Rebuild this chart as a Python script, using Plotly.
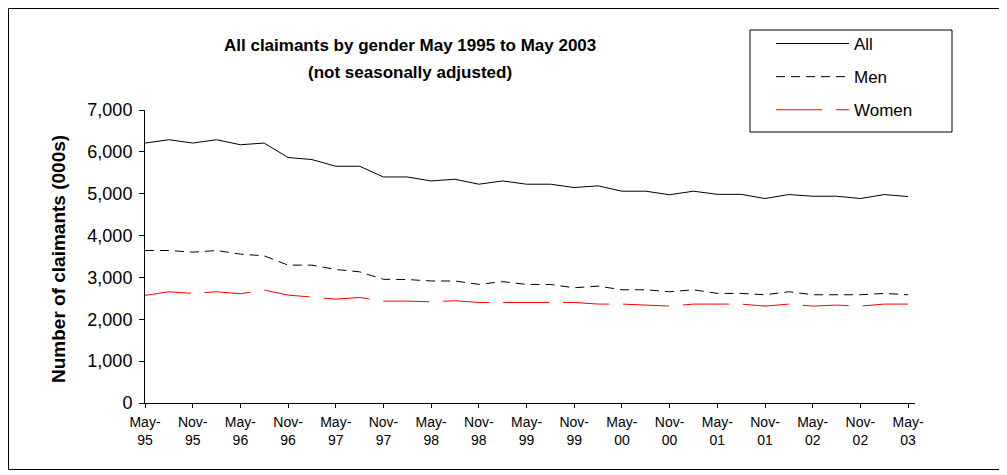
import plotly.graph_objects as go

categories = [
    "May-95", "Aug-95", "Nov-95", "Feb-96", "May-96", "Aug-96", "Nov-96", "Feb-97",
    "May-97", "Aug-97", "Nov-97", "Feb-98", "May-98", "Aug-98", "Nov-98", "Feb-99",
    "May-99", "Aug-99", "Nov-99", "Feb-00", "May-00", "Aug-00", "Nov-00", "Feb-01",
    "May-01", "Aug-01", "Nov-01", "Feb-02", "May-02", "Aug-02", "Nov-02", "Feb-03",
    "May-03",
]
all_claimants = [6210, 6290, 6210, 6290, 6170, 6210, 5865, 5816, 5656, 5656, 5400, 5400,
                 5305, 5346, 5227, 5305, 5227, 5227, 5148, 5188, 5060, 5060, 4975, 5060,
                 4985, 4985, 4885, 4980, 4940, 4940, 4885, 4980, 4932]
men = [3643, 3643, 3604, 3643, 3557, 3516, 3294, 3294, 3190, 3134, 2955, 2950,
       2915, 2915, 2835, 2900, 2832, 2832, 2753, 2792, 2705, 2705, 2658, 2705,
       2618, 2618, 2586, 2658, 2586, 2586, 2586, 2618, 2586]
women = [2570, 2658, 2618, 2658, 2610, 2697, 2578, 2538, 2482, 2522, 2434, 2434,
         2418, 2442, 2402, 2402, 2402, 2402, 2402, 2363, 2363, 2339, 2315, 2363,
         2363, 2363, 2315, 2363, 2315, 2339, 2315, 2363, 2363]
tick_vals = categories[::2]
tick_text = [c.replace("-", "-<br>") for c in tick_vals]
y_ticks = [0, 1000, 2000, 3000, 4000, 5000, 6000, 7000]

FONT = "Arial, Liberation Sans, sans-serif"

fig = go.Figure()
fig.add_trace(go.Scatter(x=categories, y=all_claimants, name="All", mode="lines",
                         legendgroup="a", line=dict(color="black", width=1)))
fig.add_trace(go.Scatter(x=categories, y=men, name="Men", mode="lines",
                         legendgroup="b", line=dict(color="black", width=1, dash="9px,6px")))
fig.add_trace(go.Scatter(x=categories, y=women, name="Women", mode="lines",
                         legendgroup="c", line=dict(color="#ff0000", width=1, dash="46px,14px")))

# page body has an 8px margin; work in screen coordinates and convert
OFF = 8
W, H = 992, 462
PL, PR, PT, PB = 145, 915, 110, 403  # plot area in screen px
L, R, T, B = PL - OFF, W - (PR - OFF), PT - OFF, H - (PB - OFF)
pw, ph = PR - PL, PB - PT

def px(x):
    return (x - PL) / pw

def py(y):
    return (PB - y) / ph

fig.update_layout(
    width=W, height=H,
    margin=dict(l=L, r=R, t=T, b=B),
    paper_bgcolor="white", plot_bgcolor="white",
    font=dict(family=FONT, color="black", size=17),
    showlegend=True,
    legend=dict(x=px(771), y=py(26), xanchor="left", yanchor="top",
                bgcolor="rgba(0,0,0,0)", borderwidth=0,
                font=dict(size=17), tracegroupgap=8, itemwidth=73),
    xaxis=dict(type="category", range=[0, 32.29], tickmode="array",
               tickvals=tick_vals, ticktext=tick_text,
               showline=True, linecolor="black", linewidth=1,
               ticks="outside", ticklen=4, tickcolor="black",
               showgrid=False, zeroline=False, tickangle=0,
               ticklabelstandoff=2, tickfont=dict(size=14)),
    yaxis=dict(range=[0, 7000], tickmode="array", tickvals=y_ticks,
               tickformat=",d", showline=True, linecolor="black", linewidth=1,
               ticks="outside", ticklen=5, tickcolor="black",
               showgrid=False, zeroline=False, ticklabelstandoff=3,
               tickfont=dict(size=18)),
    shapes=[
        dict(type="rect", xref="paper", yref="paper",
             x0=px(8.5), x1=px(999.5), y0=py(469.5), y1=py(8.5),
             line=dict(color="black", width=1), fillcolor="rgba(0,0,0,0)", layer="below"),
        dict(type="rect", xref="paper", yref="paper",
             x0=px(750), x1=px(952), y0=py(132), y1=py(30),
             line=dict(color="black", width=1), fillcolor="white", layer="below"),
    ],
    annotations=[
        dict(text="<b>All claimants by gender May 1995 to May 2003</b>", xref="paper", yref="paper",
             x=px(410), y=py(45), xanchor="center", yanchor="middle", showarrow=False,
             font=dict(size=17)),
        dict(text="<b>(not seasonally adjusted)</b>", xref="paper", yref="paper",
             x=px(410), y=py(73), xanchor="center", yanchor="middle", showarrow=False,
             font=dict(size=17)),
        dict(text="<b>Number of claimants (000s)</b>", xref="paper", yref="paper",
             x=px(58), y=py(259), xanchor="center", yanchor="middle", showarrow=False,
             textangle=-90, font=dict(size=19)),
    ],
)

fig.write_html("out.html")
